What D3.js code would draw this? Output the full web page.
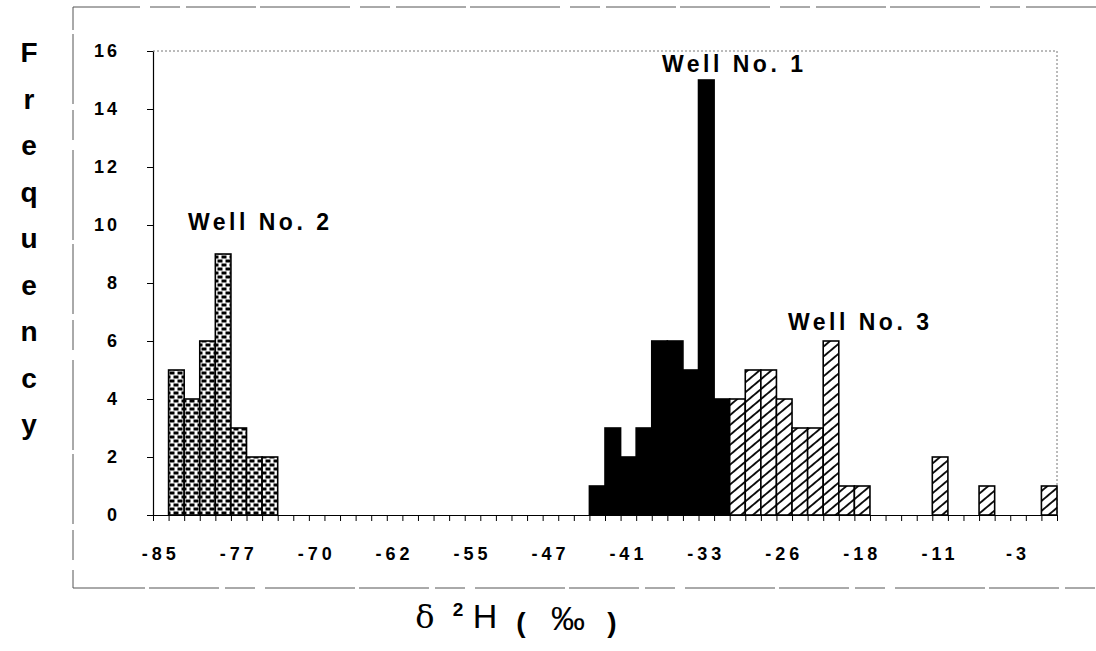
<!DOCTYPE html>
<html>
<head>
<meta charset="utf-8">
<script src="https://cdn.jsdelivr.net/npm/d3@7/dist/d3.min.js"></script>
<style>
  body { margin: 0; background: #fff; }
  svg { display: block; font-family: 'Liberation Sans', Arial, sans-serif; }
</style>
</head>
<body>
<svg width="1096" height="651"></svg>
<script>
// bins of the histogram (category axis), every 5th bin is labelled
const binCount = 58;
const tickBins = [0, 5, 10, 15, 20, 25, 30, 35, 40, 45, 50, 55];
const tickLabels = ['-85', '-77', '-70', '-62', '-55', '-47', '-41', '-33', '-26', '-18', '-11', '-3'];
const yTicks = [0, 2, 4, 6, 8, 10, 12, 14, 16];

// frequency per bin for each well
const well2Bins = [1, 2, 3, 4, 5, 6, 7];
const well2Freq = [5, 4, 6, 9, 3, 2, 2];
const well1Bins = [28, 29, 30, 31, 32, 33, 34, 35, 36];
const well1Freq = [1, 3, 2, 3, 6, 6, 5, 15, 4];
const well3Bins = [37, 38, 39, 40, 41, 42, 43, 44, 45, 50, 53, 57];
const well3Freq = [4, 5, 5, 4, 3, 3, 6, 1, 1, 2, 1, 1];

const svg = d3.select('svg');
const margin = { top: 51, right: 39, bottom: 136, left: 153 };
const width = +svg.attr('width') - margin.left - margin.right;
const height = +svg.attr('height') - margin.top - margin.bottom;

// --- fill patterns ---
const defs = svg.append('defs');
const checker = defs.append('pattern')
  .attr('id', 'checker')
  .attr('patternUnits', 'userSpaceOnUse')
  .attr('width', 8).attr('height', 8);
checker.append('rect').attr('width', 8).attr('height', 8).attr('fill', '#fff');
checker.append('rect').attr('x', 0.5).attr('y', 0.5).attr('width', 5).attr('height', 3).attr('fill', '#000');
checker.append('rect').attr('x', 4.5).attr('y', 4.5).attr('width', 5).attr('height', 3).attr('fill', '#000');
checker.append('rect').attr('x', -3.5).attr('y', 4.5).attr('width', 5).attr('height', 3).attr('fill', '#000');

const hatch = defs.append('pattern')
  .attr('id', 'hatch')
  .attr('patternUnits', 'userSpaceOnUse')
  .attr('width', 10).attr('height', 7.6)
  .attr('patternTransform', 'rotate(-40)');
hatch.append('rect').attr('width', 10).attr('height', 7.6).attr('fill', '#fff');
hatch.append('line')
  .attr('x1', 0).attr('x2', 10).attr('y1', 3.8).attr('y2', 3.8)
  .attr('stroke', '#000').attr('stroke-width', 1.8);

// --- outer frame (broken scan lines) ---
svg.append('path')
  .attr('d', 'M1096,7 H73 V588 H1096')
  .attr('fill', 'none')
  .attr('stroke', '#555')
  .attr('stroke-width', 1)
  .attr('stroke-dasharray', '70,6,30,10,90,4');

const g = svg.append('g')
  .attr('transform', `translate(${margin.left},${margin.top})`);

const x = d3.scaleBand().domain(d3.range(binCount)).range([0, width]).padding(0);
const xEdge = d3.scaleLinear().domain([0, binCount]).range([0, width]);
const y = d3.scaleLinear().domain([0, 16]).range([height, 0]);

// plot area border (light dotted)
g.append('path')
  .attr('d', `M0,0 H${width} V${height}`)
  .attr('fill', 'none')
  .attr('stroke', '#777')
  .attr('stroke-width', 1)
  .attr('stroke-dasharray', '2,2');

// --- bars ---
const series = [
  { bins: well2Bins, freq: well2Freq, fill: 'url(#checker)' },
  { bins: well1Bins, freq: well1Freq, fill: '#000' },
  { bins: well3Bins, freq: well3Freq, fill: 'url(#hatch)' }
];
series.forEach(s => {
  g.append('g')
    .selectAll('rect')
    .data(s.bins.map((b, i) => ({ bin: b, value: s.freq[i] })))
    .enter()
    .append('rect')
    .attr('x', d => x(d.bin))
    .attr('y', d => y(d.value))
    .attr('width', x.bandwidth())
    .attr('height', d => y(0) - y(d.value))
    .attr('fill', s.fill)
    .attr('stroke', '#000')
    .attr('stroke-width', 1.6);
});

// --- axes ---
const yAxis = g.append('g')
  .call(d3.axisLeft(y).tickValues(yTicks).tickSize(6).tickSizeOuter(0).tickPadding(27));
yAxis.select('.domain').attr('stroke-width', 1.2);
yAxis.selectAll('text')
  .attr('font-size', 18)
  .attr('font-weight', 'bold')
  .attr('letter-spacing', 3)
  .attr('fill', '#000')
  .attr('font-family', "'Liberation Sans', Arial, sans-serif");

// small ticks on every bin boundary
const edgeAxis = g.append('g')
  .attr('transform', `translate(0,${height})`)
  .call(d3.axisBottom(xEdge).tickValues(d3.range(binCount + 1)).tickSize(6).tickSizeOuter(0).tickFormat(''));
edgeAxis.select('.domain').attr('stroke-width', 1.2);

const xAxis = g.append('g')
  .attr('transform', `translate(0,${height})`)
  .call(d3.axisBottom(x).tickValues(tickBins).tickSize(0).tickPadding(32)
    .tickFormat((d, i) => tickLabels[i]));
xAxis.select('.domain').remove();
xAxis.selectAll('text')
  .attr('font-size', 18)
  .attr('font-weight', 'bold')
  .attr('letter-spacing', 4)
  .attr('fill', '#000')
  .attr('font-family', "'Liberation Sans', Arial, sans-serif");

// --- well labels ---
const wellLabels = [
  { text: 'Well No. 2', x: 188, y: 230 },
  { text: 'Well No. 1', x: 662, y: 72 },
  { text: 'Well No. 3', x: 788, y: 330 }
];
svg.append('g')
  .selectAll('text')
  .data(wellLabels)
  .enter()
  .append('text')
  .attr('x', d => d.x)
  .attr('y', d => d.y)
  .attr('font-size', 23)
  .attr('font-weight', 'bold')
  .attr('letter-spacing', 3.5)
  .text(d => d.text);

// --- y title, one letter per line ---
const yTitle = 'Frequency'.split('');
svg.append('g')
  .selectAll('text')
  .data(yTitle)
  .enter()
  .append('text')
  .attr('x', 29)
  .attr('y', (d, i) => 62 + i * 46.5)
  .attr('text-anchor', 'middle')
  .attr('font-size', 28)
  .attr('font-weight', 'bold')
  .text(d => d);

// --- x title: δ ²H ( ‰ ) ---
const xt = svg.append('g').attr('text-anchor', 'middle');
xt.append('text').attr('x', 425).attr('y', 628)
  .attr('font-family', "'DejaVu Serif', serif").attr('font-size', 32).text('δ');
xt.append('text').attr('x', 458).attr('y', 616)
  .attr('font-size', 19).attr('font-weight', 'bold').text('2');
xt.append('text').attr('x', 485).attr('y', 628)
  .attr('font-size', 34).text('H');
xt.append('text').attr('x', 521).attr('y', 632)
  .attr('font-size', 28).attr('font-weight', 'bold').text('(');
xt.append('text').attr('x', 568).attr('y', 630)
  .attr('font-size', 34).text('‰');
xt.append('text').attr('x', 612).attr('y', 632)
  .attr('font-size', 28).attr('font-weight', 'bold').text(')');
</script>
</body>
</html>
